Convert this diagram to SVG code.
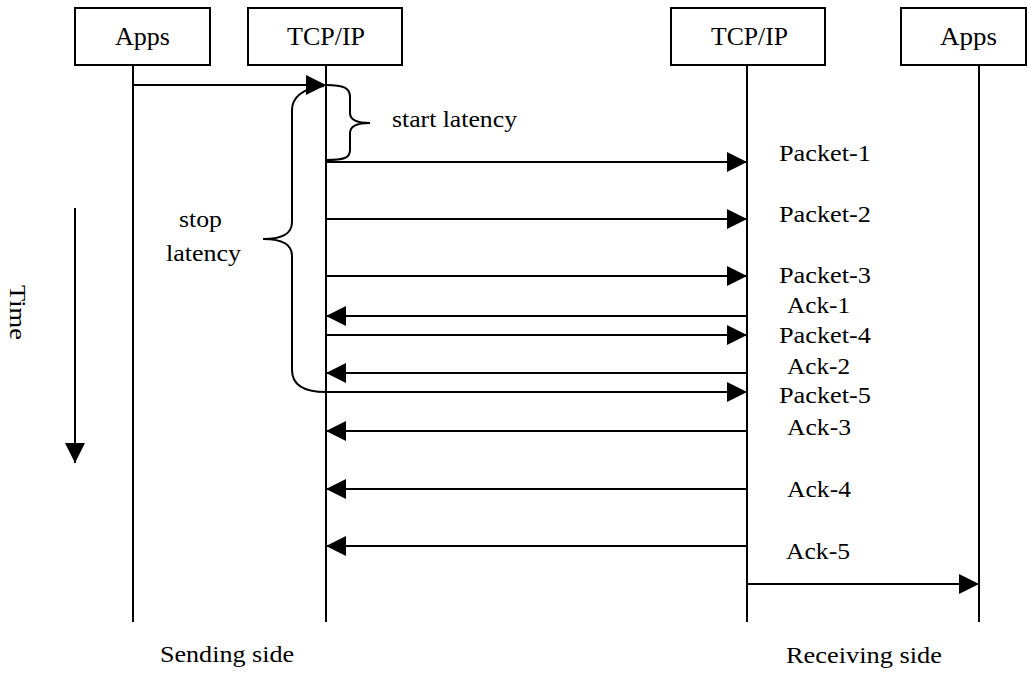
<svg xmlns="http://www.w3.org/2000/svg" width="1028" height="674" viewBox="0 0 1028 674">
  <style>
    .box { fill: #fff; stroke: #000; stroke-width: 2; }
    .life { stroke: #000; stroke-width: 2; fill: none; }
    .msg { stroke: #000; stroke-width: 2; fill: none; marker-end: url(#head); }
    .brace { stroke: #000; stroke-width: 2; fill: none; }
    text { font-family: "Liberation Serif", "Times New Roman", serif; fill: #000; }
    .hdr { font-size: 26px; }
    .lbl { font-size: 24px; }
  </style>
  <defs>
    <marker id="head" markerUnits="userSpaceOnUse" markerWidth="20" markerHeight="20" refX="20" refY="10" orient="auto">
      <path d="M0,0 L20,10 L0,20 Z" fill="#000"/>
    </marker>
  </defs>

  <!-- participants -->
  <g id="apps-send">
    <rect class="box" x="75" y="8" width="135" height="57"/>
    <text class="hdr" x="115" y="45" textLength="55" lengthAdjust="spacingAndGlyphs">Apps</text>
  </g>
  <g id="tcp-send">
    <rect class="box" x="248" y="8" width="154" height="57"/>
    <text class="hdr" x="287" y="45" textLength="78" lengthAdjust="spacingAndGlyphs">TCP/IP</text>
  </g>
  <g id="tcp-recv">
    <rect class="box" x="671" y="8" width="154" height="57"/>
    <text class="hdr" x="711" y="45" textLength="77" lengthAdjust="spacingAndGlyphs">TCP/IP</text>
  </g>
  <g id="apps-recv">
    <rect class="box" x="901" y="8" width="125" height="57"/>
    <text class="hdr" x="940" y="45" textLength="57" lengthAdjust="spacingAndGlyphs">Apps</text>
  </g>

  <!-- lifelines -->
  <g id="lifelines">
    <line class="life" x1="133" y1="65" x2="133" y2="622"/>
    <line class="life" x1="326" y1="65" x2="326" y2="622"/>
    <line class="life" x1="747" y1="65" x2="747" y2="622"/>
    <line class="life" x1="979" y1="65" x2="979" y2="622"/>
  </g>

  <!-- messages -->
  <g id="connectors">
    <line class="msg" x1="133" y1="85" x2="326" y2="85"/>
    <line class="msg" x1="326" y1="162" x2="747" y2="162"/>
    <line class="msg" x1="326" y1="219" x2="747" y2="219"/>
    <line class="msg" x1="326" y1="276" x2="747" y2="276"/>
    <line class="msg" x1="747" y1="316" x2="326" y2="316"/>
    <line class="msg" x1="326" y1="335" x2="747" y2="335"/>
    <line class="msg" x1="747" y1="373" x2="326" y2="373"/>
    <line class="msg" x1="326" y1="392" x2="747" y2="392"/>
    <line class="msg" x1="747" y1="431" x2="326" y2="431"/>
    <line class="msg" x1="747" y1="489" x2="326" y2="489"/>
    <line class="msg" x1="747" y1="546" x2="326" y2="546"/>
    <line class="msg" x1="747" y1="584" x2="979" y2="584"/>
    <line class="msg" x1="75" y1="208" x2="75" y2="463"/>
  </g>

  <!-- latency braces -->
  <g id="start-latency">
    <path class="brace" d="M326,85 C344,85 350,88 350,97 L350,113 C350,120 356,123 370,123 C356,123 350,126 350,133 L350,150 C350,158 344,160 326,160"/>
    <text class="lbl" x="392" y="127" textLength="125" lengthAdjust="spacingAndGlyphs">start latency</text>
  </g>
  <g id="stop-latency">
    <path class="brace" d="M324,86 C302,88 292,98 292,110 L292,222 C292,233 284,239 263,239 C284,239 292,245 292,256 L292,370 C292,384 302,392 326,392"/>
    <text class="lbl" x="179" y="227" textLength="43" lengthAdjust="spacingAndGlyphs">stop</text>
    <text class="lbl" x="166" y="261" textLength="75" lengthAdjust="spacingAndGlyphs">latency</text>
  </g>

  <!-- message labels -->
  <g id="labels">
    <text class="lbl" x="779" y="161" textLength="92" lengthAdjust="spacingAndGlyphs">Packet-1</text>
    <text class="lbl" x="779" y="222" textLength="92" lengthAdjust="spacingAndGlyphs">Packet-2</text>
    <text class="lbl" x="779" y="283" textLength="92" lengthAdjust="spacingAndGlyphs">Packet-3</text>
    <text class="lbl" x="787" y="313" textLength="63" lengthAdjust="spacingAndGlyphs">Ack-1</text>
    <text class="lbl" x="779" y="343" textLength="92" lengthAdjust="spacingAndGlyphs">Packet-4</text>
    <text class="lbl" x="787" y="374" textLength="63" lengthAdjust="spacingAndGlyphs">Ack-2</text>
    <text class="lbl" x="779" y="403" textLength="92" lengthAdjust="spacingAndGlyphs">Packet-5</text>
    <text class="lbl" x="787" y="435" textLength="64" lengthAdjust="spacingAndGlyphs">Ack-3</text>
    <text class="lbl" x="787" y="497" textLength="64" lengthAdjust="spacingAndGlyphs">Ack-4</text>
    <text class="lbl" x="786" y="559" textLength="64" lengthAdjust="spacingAndGlyphs">Ack-5</text>
  </g>

  <!-- axis and side captions -->
  <g id="captions">
    <text class="lbl" transform="translate(10,285) rotate(90)" textLength="55" lengthAdjust="spacingAndGlyphs">Time</text>
    <text class="lbl" x="160" y="662" textLength="134" lengthAdjust="spacingAndGlyphs">Sending side</text>
    <text class="lbl" x="786" y="663" textLength="156" lengthAdjust="spacingAndGlyphs">Receiving side</text>
  </g>
</svg>
